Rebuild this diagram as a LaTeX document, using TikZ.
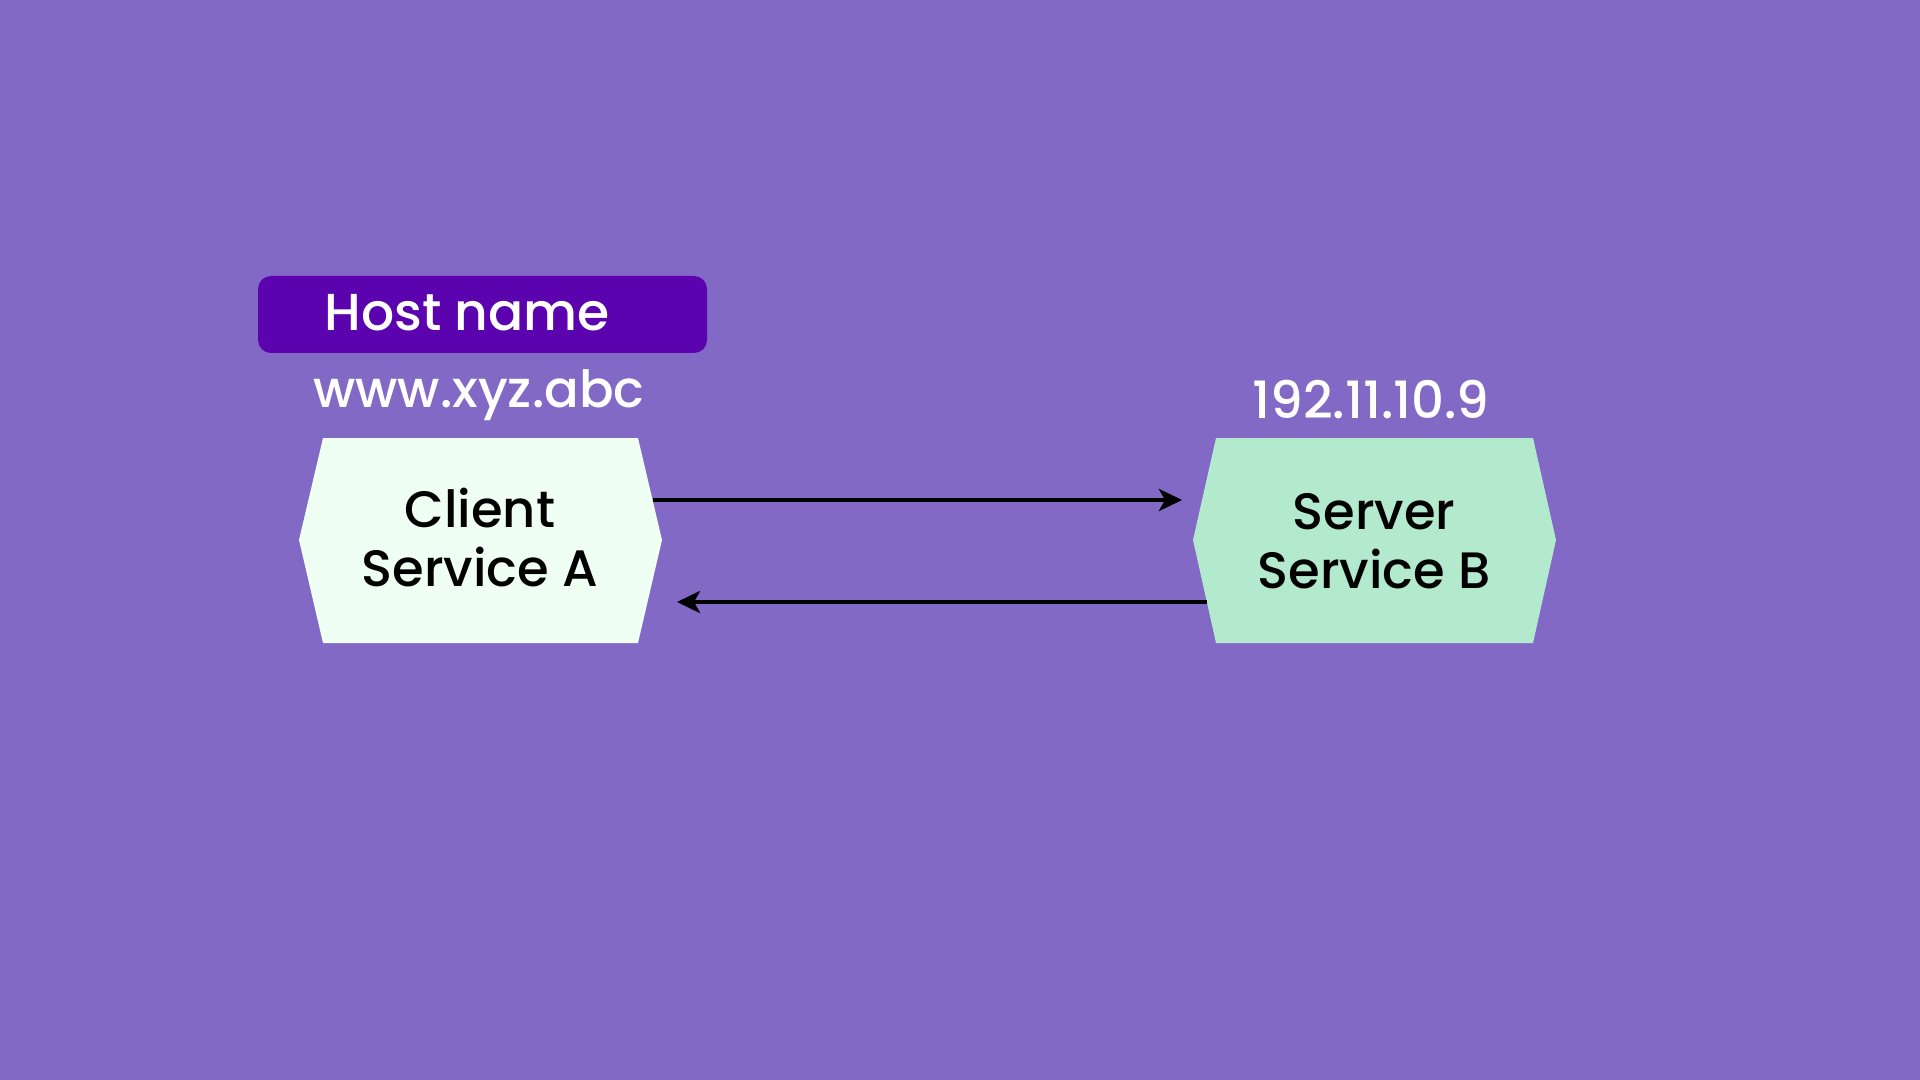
\documentclass[tikz,border=0pt]{standalone}
\usepackage{fontspec}
\setmainfont{Poppins}[UprightFont={* Medium}]
\usetikzlibrary{arrows.meta}
\definecolor{bgpurple}{HTML}{8369C6}
\definecolor{hostbox}{HTML}{5A03AE}
\definecolor{clientfill}{HTML}{F0FFF3}
\definecolor{serverfill}{HTML}{B3E9CC}
\tikzset{
  label text/.style={text=white, inner sep=0pt, font=\fontsize{26pt}{31pt}\selectfont},
  box text/.style={text=black, inner sep=0pt, align=center, font=\fontsize{25.6pt}{29.5pt}\selectfont},
  flow/.style={line width=2.3pt, -{Stealth[length=11.5pt,width=11pt,inset=3pt]}},
}
\begin{document}
\begin{tikzpicture}[x=0.5pt,y=-0.5pt]
\fill[bgpurple] (0,0) rectangle (1920,1080);
\useasboundingbox (0,0) rectangle (1920,1080);
% host name box
\fill[hostbox, rounded corners=6.5pt] (258,276) rectangle (707,353);
\node[label text, anchor=base west] (host) at (324,331) {Host name};
\node[label text, anchor=base, font=\fontsize{25.6pt}{30pt}\selectfont] (www) at (479,407) {www.xyz.abc};
\node[label text, anchor=base, font=\fontsize{25.7pt}{30pt}\selectfont] (ip) at (1371,418) {192.11.10.9};
% hexagons
\fill[clientfill] (323,438) -- (638,438) -- (662,540) -- (638,643) -- (323,643) -- (299,540) -- cycle;
\fill[serverfill] (1216,438) -- (1533,438) -- (1556,540) -- (1533,643) -- (1216,643) -- (1193,540) -- cycle;
\node[box text] (client) at (480,538) {Client\\Service A};
\node[box text] (server) at (1374,541) {Server\\Service B};
% connector ends
\coordinate (c1) at (653,500);
\coordinate (s1) at (1182,500);
\coordinate (s2) at (1207,602);
\coordinate (c2) at (677,602);
\draw[flow] (c1) -- (s1);
\draw[flow] (s2) -- (c2);
\end{tikzpicture}
\end{document}
